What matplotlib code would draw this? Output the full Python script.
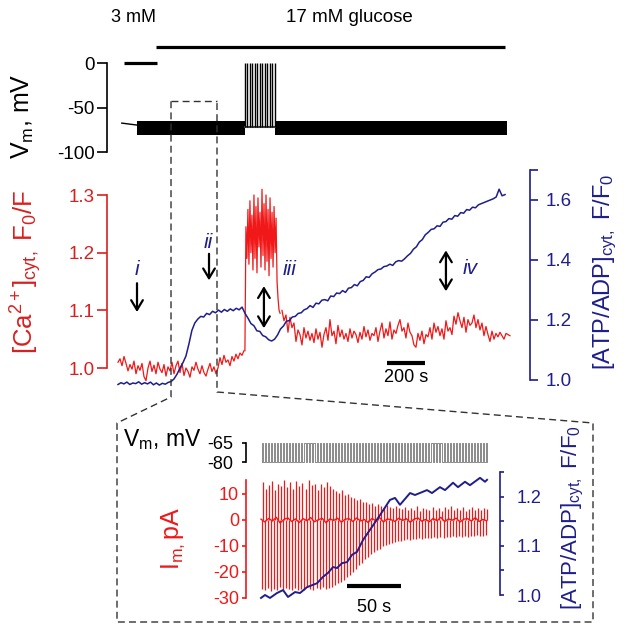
import numpy as np
import matplotlib
matplotlib.use('Agg')
import matplotlib.pyplot as plt

plt.rcParams['font.family'] = ['Liberation Sans', 'DejaVu Sans']
plt.rcParams['mathtext.fontset'] = 'custom'
plt.rcParams['mathtext.rm'] = 'Liberation Sans'
plt.rcParams['mathtext.it'] = 'Liberation Sans:italic'
plt.rcParams['axes.unicode_minus'] = False

RED = '#f01818'
RED_AX = '#d82020'
NAVY = '#1e1e8c'

# ---------------- data ----------------
# top panel: membrane potential, time in s
GLUC_T = [200, 2037]                 # 17 mM glucose bar
HOLD_T, HOLD_V = [32, 205], [0, 0]   # 0 mV segment at 3 mM
PRE_T, PRE_V = [20, 100], [-67.5, -69.7]
BAR_SEGS = [(100, 668), (826, 2047)]  # dense oscillation blocks
BAR_LO, BAR_HI = -81, -65
AP_T = [668, 681, 694, 707, 720, 734, 747, 760, 773, 786, 799, 813, 826]
AP_BASE, AP_PEAK = -72, 0
ZOOM_WIN = (279, 521)                # window shown in the inset

# middle panel: [Ca2+]cyt (left) and [ATP/ADP]cyt (right)
RED_BASE_T = (0, 663)
RED_BASE = [1.010, 1.016, 1.004, 1.020, 1.008, 0.995, 1.006, 0.998, 1.012, 0.990,
            1.004, 0.996, 1.008, 0.985, 0.978, 1.000, 1.012, 0.994, 1.005, 0.990,
            1.010, 0.998, 0.992, 1.006, 0.986, 1.002, 0.995, 1.010, 0.990, 1.004,
            1.012, 0.992, 1.008, 0.987, 1.000, 0.994, 0.984, 1.002, 0.996, 1.010,
            0.998, 0.990, 1.004, 0.992, 0.986, 0.998, 1.008, 0.994, 1.002, 0.990,
            1.000, 1.018, 1.006, 1.022, 1.010, 1.014, 1.004, 1.020, 1.012, 1.024,
            1.016, 1.026, 1.022, 1.030]
RED_BURST_T = (668, 853)
RED_BURST = [1.030, 1.245, 1.190, 1.275, 1.180, 1.290, 1.200, 1.265, 1.170, 1.300,
             1.190, 1.280, 1.165, 1.295, 1.210, 1.270, 1.175, 1.310, 1.195, 1.285,
             1.170, 1.300, 1.185, 1.275, 1.160, 1.295, 1.190, 1.270, 1.175, 1.280,
             1.200, 1.260, 1.150, 1.120, 1.100, 1.095]
RED_POST_T = (863, 2063)
RED_POST = [1.100, 1.082, 1.092, 1.062, 1.088, 1.070, 1.078, 1.046, 1.066, 1.058,
            1.040, 1.070, 1.052, 1.064, 1.048, 1.060, 1.044, 1.068, 1.050, 1.062,
            1.036, 1.058, 1.070, 1.048, 1.084, 1.056, 1.064, 1.042, 1.074, 1.054,
            1.066, 1.050, 1.060, 1.046, 1.068, 1.052, 1.064, 1.058, 1.044, 1.062,
            1.050, 1.072, 1.054, 1.066, 1.048, 1.060, 1.056, 1.070, 1.046, 1.064,
            1.078, 1.052, 1.068, 1.056, 1.080, 1.050, 1.066, 1.060, 1.074, 1.084,
            1.064, 1.070, 1.052, 1.078, 1.062, 1.056, 1.040, 1.036, 1.060, 1.048,
            1.064, 1.042, 1.058, 1.054, 1.070, 1.050, 1.078, 1.062, 1.072, 1.056,
            1.068, 1.050, 1.082, 1.064, 1.070, 1.058, 1.090, 1.076, 1.096, 1.082,
            1.070, 1.088, 1.062, 1.084, 1.074, 1.078, 1.092, 1.070, 1.084, 1.066,
            1.078, 1.056, 1.072, 1.058, 1.046, 1.064, 1.050, 1.060, 1.054, 1.062,
            1.056, 1.050, 1.060, 1.058, 1.056]
BLUE_T = (0, 2037)
BLUE = [0.985, 0.991, 0.987, 0.993, 0.985, 0.990, 0.988, 0.994, 0.986, 0.991,
        0.987, 0.993, 0.984, 0.990, 0.983, 0.989, 0.986, 0.992, 0.995, 1.004,
        1.020, 1.040, 1.058, 1.080, 1.120, 1.165, 1.190, 1.203, 1.212, 1.210,
        1.222, 1.218, 1.229, 1.224, 1.233, 1.226, 1.235, 1.229, 1.237, 1.231,
        1.239, 1.234, 1.243, 1.222, 1.206, 1.188, 1.181, 1.164, 1.162, 1.148,
        1.144, 1.134, 1.130, 1.136, 1.150, 1.170, 1.180, 1.196, 1.198, 1.210,
        1.212, 1.222, 1.224, 1.234, 1.238, 1.248, 1.242, 1.256, 1.254, 1.266,
        1.268, 1.264, 1.280, 1.278, 1.290, 1.288, 1.298, 1.292, 1.306, 1.308,
        1.318, 1.314, 1.328, 1.332, 1.344, 1.342, 1.354, 1.360, 1.368, 1.370,
        1.378, 1.380, 1.386, 1.382, 1.394, 1.398, 1.396, 1.404, 1.414, 1.422,
        1.436, 1.444, 1.460, 1.468, 1.484, 1.492, 1.502, 1.504, 1.514, 1.512,
        1.526, 1.528, 1.538, 1.536, 1.548, 1.546, 1.558, 1.556, 1.568, 1.566,
        1.576, 1.574, 1.584, 1.588, 1.592, 1.596, 1.600, 1.604, 1.610, 1.636,
        1.614, 1.618]
SCALE_200 = (1416, 1616)

# inset: Im (pA), Vm pulses, [ATP/ADP]cyt; time in s from start of window
PULSE_T0, PULSE_DT, PULSE_W = 1.0, 2.8, 1.0
IM_UP = [14.5, 12.0, 13.5, 15.0, 11.5, 14.0, 13.0, 15.2, 12.5, 14.5, 11.8, 15.0,
         13.0, 14.2, 12.0, 15.3, 13.5, 14.0, 11.5, 13.8, 12.5, 14.5, 13.0,
         12.0, 11.0, 10.5, 11.5, 9.5, 10.0, 8.8,
         8.5, 7.8, 8.0, 7.0, 6.8, 6.2,
         6.5, 5.5, 6.0, 5.2, 5.0, 5.6, 4.8, 4.5, 5.2, 4.4,
         4.2, 5.0, 3.8, 4.5, 4.0, 5.2, 3.6, 4.6, 4.2, 3.8, 5.0, 4.0, 4.4, 3.6,
         4.8, 4.2, 5.4, 3.8, 4.4, 4.0, 4.8, 3.6, 4.2, 5.0, 4.0, 4.4, 3.8, 4.6, 4.2]
IM_DOWN = [-26.5, -27.0, -26.0, -27.2, -26.4, -26.8, -25.8, -27.0, -26.2, -26.6,
           -27.1, -26.0, -26.8, -26.4, -27.0, -25.9, -26.6, -26.9, -26.2, -26.7,
           -25.8, -26.5, -26.0,
           -25.6, -25.0, -24.4, -23.8, -23.0, -22.0, -21.0,
           -20.0, -18.8, -17.5, -16.5, -15.2, -14.2,
           -13.2, -12.4, -11.5, -11.0, -10.2, -9.8, -9.2, -8.8, -8.5, -8.2,
           -8.0, -7.8, -7.5, -7.8, -7.2, -7.4, -7.0, -7.3, -6.8, -7.1, -6.9, -6.6,
           -7.0, -6.5, -6.8, -6.4, -6.7, -6.2, -6.6, -6.3, -6.5, -6.0, -6.4, -6.1,
           -6.3, -5.9, -6.2, -6.0, -5.8]
IM_BASE_T = (0, 209)
IM_BASE = [0.3, -0.8, 0.6, -0.4, 1.0, -1.2, 0.2, 0.8, -0.6, 0.4, -1.0, 0.5, -0.3,
           0.9, -0.7, 0.1, 0.6, -1.1, 0.4, -0.2, 0.7, -0.9, 0.3, 0.5, -0.6, 0.8,
           -0.4, 0.2, -1.0, 0.6, -0.3, 0.9, -0.8, 0.4, 0.1, -0.6, 0.7, -0.2, 0.5,
           -0.9, 0.3, 0.8, -0.5, 0.2, -0.7, 0.6, -0.3, 1.0, -0.6, 0.4, -0.1, 0.7,
           -0.8, 0.3, 0.5, -0.4, 0.9, -0.6, 0.2, -0.3]
VM_LO, VM_HI = -80, -65
ATP_IN_T = [0, 3.7, 8.3, 14.8, 20.4, 25.0, 31.5, 36.1, 42.6, 47.2, 51.9, 57.4, 62.0,
            66.7, 70.4, 75.0, 79.6, 84.3, 88.9, 94.4, 100.9, 110.2, 119.4, 124.1,
            128.7, 138.0, 142.6, 153.7, 158.3, 165.7, 170.4, 177.8, 182.4, 188.9,
            193.5, 202.8, 207.4, 209.3]
ATP_IN = [0.994, 1.000, 0.994, 1.004, 1.010, 0.996, 1.006, 1.004, 1.016, 1.020,
          1.024, 1.037, 1.045, 1.057, 1.055, 1.065, 1.067, 1.082, 1.088, 1.112,
          1.133, 1.163, 1.194, 1.198, 1.184, 1.208, 1.204, 1.214, 1.208, 1.220,
          1.214, 1.229, 1.220, 1.231, 1.224, 1.239, 1.231, 1.235]
SCALE_50 = (80, 130)

# ---------------- figure ----------------
W, H = 629, 625
fig = plt.figure(figsize=(W / 100, H / 100), dpi=100)


def box(x0, y0, x1, y1):
    return [x0 / W, 1 - y1 / H, (x1 - x0) / W, (y1 - y0) / H]


def strip(ax, keep):
    for s in ['left', 'right', 'top', 'bottom']:
        ax.spines[s].set_visible(s == keep)
    ax.set_xticks([])
    ax.patch.set_visible(False)


# top panel
ax_top = fig.add_axes(box(107, 30, 530, 158))
ax_top.set_xlim(-57.9, 2168.4)
ax_top.set_ylim(-106.7, 37.1)
strip(ax_top, 'left')
ax_top.spines['left'].set_bounds(-100, 0)
ax_top.spines['left'].set_linewidth(1.2)
ax_top.set_yticks([-100, -50, 0])
ax_top.tick_params(axis='y', length=7, width=1.2, pad=2, labelsize=13.5)

ax_top.plot(GLUC_T, [18, 18], color='k', lw=2.3, solid_capstyle='butt', clip_on=False)
ax_top.text(79, 51.7, '3 mM', ha='center', va='center', fontsize=13)
ax_top.text(1216, 51.7, '17 mM glucose', ha='center', va='center', fontsize=13.5)
ax_top.plot(HOLD_T, HOLD_V, color='k', lw=2.3, solid_capstyle='butt')
ax_top.plot(PRE_T, PRE_V, color='k', lw=1)
for t0, t1 in BAR_SEGS:
    ax_top.fill_between([t0, t1], BAR_LO, BAR_HI, color='k', lw=0)
ax_top.plot([AP_T[0], AP_T[-1]], [AP_BASE, AP_BASE], color='#444', lw=1.5)
ax_top.vlines(AP_T, AP_BASE, AP_PEAK, color='k', lw=1.0)

# middle panel
ax_mid = fig.add_axes(box(107, 160, 530, 395))
ax_mid.set_xlim(-57.9, 2168.4)
ax_mid.set_ylim(0.9532, 1.3607)
strip(ax_mid, 'left')
ax_mid.spines['left'].set_bounds(1.0, 1.3)
ax_mid.spines['left'].set_color(RED_AX)
ax_mid.spines['left'].set_linewidth(1.2)
ax_mid.set_yticks([1.0, 1.1, 1.2, 1.3])
ax_mid.set_yticklabels(['1.0', '1.1', '1.2', '1.3'])
ax_mid.tick_params(axis='y', length=7, width=1.2, pad=2, labelsize=13.5,
                   colors=RED_AX)

ax_r = ax_mid.twinx()
ax_r.set_ylim(0.95, 1.7333)
strip(ax_r, 'right')
ax_r.spines['right'].set_bounds(1.0, 1.7)
ax_r.spines['right'].set_color(NAVY)
ax_r.spines['right'].set_linewidth(1.2)
ax_r.set_yticks([1.0, 1.2, 1.4, 1.6, 1.7])
ax_r.set_yticklabels(['1.0', '1.2', '1.4', '1.6', ''])
ax_r.tick_params(axis='y', length=6, width=1.2, pad=5, labelsize=13.5, colors=NAVY)

ax_mid.plot(np.linspace(*RED_BASE_T, len(RED_BASE)), RED_BASE, color=RED, lw=0.9)
ax_mid.plot(np.linspace(*RED_BURST_T, len(RED_BURST)), RED_BURST, color=RED, lw=0.9)
ax_mid.plot(np.linspace(*RED_POST_T, len(RED_POST)), RED_POST, color=RED, lw=0.9)
ax_r.plot(np.linspace(*BLUE_T, len(BLUE)), BLUE, color=NAVY, lw=1.1)

arr1 = dict(arrowstyle='->,head_length=0.5,head_width=0.3', lw=1.6, color='k',
            shrinkA=0, shrinkB=0, mutation_scale=14)
arr2 = dict(arrowstyle='<->,head_length=0.5,head_width=0.3', lw=1.6, color='k',
            shrinkA=0, shrinkB=0, mutation_scale=14)
ax_mid.annotate('', xy=(100, 1.097), xytext=(100, 1.147), arrowprops=arr1)
ax_mid.annotate('', xy=(479, 1.152), xytext=(479, 1.198), arrowprops=arr1)
ax_mid.annotate('', xy=(768, 1.069), xytext=(768, 1.142), arrowprops=arr2)
ax_mid.annotate('', xy=(1726, 1.133), xytext=(1726, 1.204), arrowprops=arr2)
for lab, tx, ty in [('i', 100, 1.17), ('ii', 474, 1.217), ('iii', 905, 1.17),
                    ('iv', 1853, 1.173)]:
    ax_mid.text(tx, ty, lab, color=NAVY, style='italic', fontsize=15,
                ha='center', va='center')

ax_mid.plot(SCALE_200, [1.009, 1.009], color='k', lw=3, solid_capstyle='butt')
ax_mid.text(sum(SCALE_200) / 2, 0.983, '200 s', ha='center', va='center',
            fontsize=13)

fig.text(23 / W, 1 - 116 / H, r'V$_\mathrm{m}$, mV', rotation=90, ha='center',
         va='center', fontsize=18)
fig.text(26 / W, 1 - 272 / H, r'[Ca$^{2+}$]$_{\mathrm{cyt,}}$ F$_0$/F', rotation=90,
         ha='center', va='center', fontsize=18.5, color=RED_AX)
fig.text(605 / W, 1 - 272 / H, r'[ATP/ADP]$_{\mathrm{cyt,}}$ F/F$_0$', rotation=90,
         ha='center', va='center', fontsize=17, color=NAVY)

# inset
pulse_t = PULSE_T0 + PULSE_DT * np.arange(len(IM_UP))

ax_vm = fig.add_axes(box(246, 436, 500, 468))
ax_vm.set_xlim(-13.9, 221.3)
ax_vm.set_ylim(-84.7, -59.5)
strip(ax_vm, 'left')
ax_vm.spines['left'].set_bounds(VM_LO, VM_HI)
ax_vm.spines['left'].set_linewidth(1.2)
ax_vm.set_yticks([VM_LO, VM_HI])
ax_vm.tick_params(axis='y', length=3, width=1.2, pad=6, labelsize=13)
vx = np.repeat(np.column_stack([pulse_t, pulse_t + PULSE_W]).ravel(), 2)
vy = np.tile([VM_LO, VM_HI, VM_HI, VM_LO], len(pulse_t))
ax_vm.plot(vx, vy, color='#8a8a8a', lw=0.7)

ax_in = fig.add_axes(box(246, 470, 500, 605))
ax_in.set_xlim(-13.9, 221.3)
ax_in.set_ylim(-32.7, 19.2)
strip(ax_in, 'left')
ax_in.spines['left'].set_bounds(-30, 15.4)
ax_in.spines['left'].set_color(RED)
ax_in.spines['left'].set_linewidth(1.2)
ax_in.set_yticks([-30, -20, -10, 0, 10])
ax_in.tick_params(axis='y', length=3, width=1.2, pad=2, labelsize=13, colors=RED)

ax_in.vlines(pulse_t, IM_DOWN, 0, color=RED, lw=0.9)
ax_in.vlines(pulse_t + PULSE_W, 0, IM_UP, color=RED, lw=0.9)
ax_in.plot(np.linspace(*IM_BASE_T, len(IM_BASE)), IM_BASE, color=RED, lw=1.0)
ax_in.plot(SCALE_50, [-25.4, -25.4], color='k', lw=3, solid_capstyle='butt')
ax_in.text(sum(SCALE_50) / 2, -33.5, '50 s', ha='center', va='center',
           fontsize=13, clip_on=False)

ax_in2 = ax_in.twinx()
ax_in2.set_ylim(0.9796, 1.255)
strip(ax_in2, 'right')
ax_in2.spines['right'].set_bounds(1.0, 1.25)
ax_in2.spines['right'].set_color(NAVY)
ax_in2.spines['right'].set_linewidth(1.2)
ax_in2.set_yticks([1.0, 1.05, 1.1, 1.15, 1.2, 1.25])
ax_in2.set_yticklabels(['1.0', '', '1.1', '', '1.2', ''])
ax_in2.tick_params(axis='y', length=3, width=1.2, pad=9, labelsize=13, colors=NAVY)
ax_in2.plot(ATP_IN_T, ATP_IN, color=NAVY, lw=1.4)

fig.text(123 / W, 1 - 440 / H, r'V$_\mathrm{m}$, mV', ha='left', va='center',
         fontsize=16.5)
fig.text(173 / W, 1 - 539 / H, r'I$_{\mathrm{m,}}$pA', rotation=90, ha='center',
         va='center', fontsize=18, color=RED)
fig.text(573 / W, 1 - 517 / H, r'[ATP/ADP]$_{\mathrm{cyt,}}$ F/F$_0$', rotation=90,
         ha='center', va='center', fontsize=16, color=NAVY)

# dashed zoom box and connectors
ov = fig.add_axes([0, 0, 1, 1])
ov.set_xlim(0, W)
ov.set_ylim(H, 0)
ov.axis('off')


def to_px(ax, x, y):
    dx, dy = ax.transData.transform((x, y))
    return dx, H - dy


xl, yt = to_px(ax_top, ZOOM_WIN[0], -43)
xr, _ = to_px(ax_top, ZOOM_WIN[1], -43)
dash = dict(color='#333333', lw=1.0, ls=(0, (5, 3)))
ov.plot([xl, xr], [yt, yt], **dash)
ov.plot([xl, xl, 117, 117, 593, 593, xr, xr], [yt, 397, 423, 622, 622, 423, 392, yt],
        **dash)

fig.savefig('out.png', dpi=100)
